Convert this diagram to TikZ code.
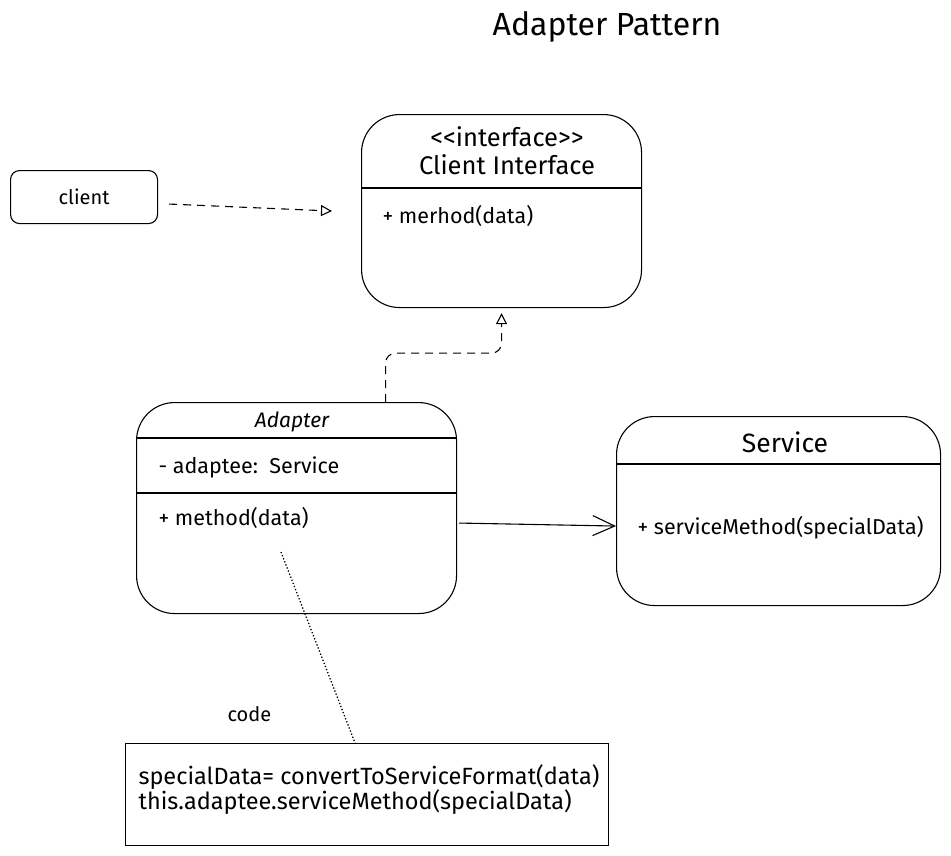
\documentclass[tikz,border=0pt]{standalone}
\usepackage{fontspec}
\setmainfont{Fira Sans}
\usetikzlibrary{arrows.meta, positioning}

\begin{document}
\begin{tikzpicture}[x=1pt,y=-1pt,line width=1.1pt,
  class box/.style={draw,rounded corners=38pt,anchor=north west,inner sep=0pt},
  small box/.style={draw,rounded corners=9pt,anchor=north west,inner sep=0pt},
  member/.style={anchor=west,inner sep=0pt,font=\fontsize{21.5}{25}\selectfont},
  head/.style={inner sep=0pt,font=\fontsize{25.5}{30}\selectfont}]
  \useasboundingbox (0,0) rectangle (951,855);
  \node[head,font=\fontsize{32}{38}\selectfont] (title) at (607,27) {Adapter Pattern};
  % client and the interface it calls
  \node[small box,minimum width=147pt,minimum height=53pt] (client) at (10,170) {};
  \node[member,font=\fontsize{20}{24}\selectfont] at (client.center) [anchor=center] {client};
  \node[class box,minimum width=280pt,minimum height=193pt] (iface) at (361,114) {};
  \node[head] (stereo) at (507,137) {<{}<interface>{}>};
  \node[head] (ifname) [below=6pt of stereo] {Client Interface};
  \draw ([yshift=-74pt]iface.north west) -- ([yshift=-74pt]iface.north east);
  \node[member] (ifmeth) at (382,216) {+ merhod(data)};
  % adapter
  \node[class box,minimum width=320pt,minimum height=211pt] (adapter) at (136,402) {};
  \node[head,font=\fontsize{21}{25}\selectfont\itshape] (adname) at (292,422) {Adapter};
  \draw ([yshift=-36pt]adapter.north west) -- ([yshift=-36pt]adapter.north east);
  \node[member] (adfield) at (158,467) {- adaptee:\ \ Service};
  \draw ([yshift=-91pt]adapter.north west) -- ([yshift=-91pt]adapter.north east);
  \node[member] (admeth) at (158,518) {+ method(data)};
  % service
  \node[class box,minimum width=324pt,minimum height=189pt] (service) at (616,416) {};
  \node[head,font=\fontsize{26.5}{30}\selectfont] (svname) at (785,442) {Service};
  \draw ([yshift=-48pt]service.north west) -- ([yshift=-48pt]service.north east);
  \node[member] (svmeth) at (637,528) {+ serviceMethod(specialData)};
  % code note
  \node[draw,anchor=north west,minimum width=483pt,minimum height=102pt,inner sep=0pt] (codebox) at (125,743) {};
  \node[member,align=left,font=\fontsize{23.5}{25}\selectfont] (codetext) at (138,790)
    {specialData= convertToServiceFormat(data)\\this.adaptee.serviceMethod(specialData)};
  \node[member,font=\fontsize{20}{24}\selectfont] (codelbl) at (227,714) {code};
  \coordinate (notept) at (281,552);
  % connectors
  \draw[dashed,dash pattern=on 8pt off 6pt,-{Triangle[open,length=11pt,width=11pt]}]
    ([xshift=11pt,yshift=-7pt]client.east) -- ([xshift=-29pt]iface.west);
  \draw[dashed,dash pattern=on 8pt off 6pt,rounded corners=10pt,-{Triangle[open,length=11pt,width=11pt]}]
    ([xshift=89pt]adapter.north) |- ([yshift=-45pt]iface.south) -- ([yshift=-5pt]iface.south);
  \draw[-{Straight Barb[length=22pt,width=20pt]}]
    ([xshift=2pt,yshift=-15pt]adapter.east) -- ([yshift=-15pt]service.west);
  \draw[dotted,line width=1.3pt] (notept) -- ([xshift=-12pt]codebox.north);
\end{tikzpicture}
\end{document}
